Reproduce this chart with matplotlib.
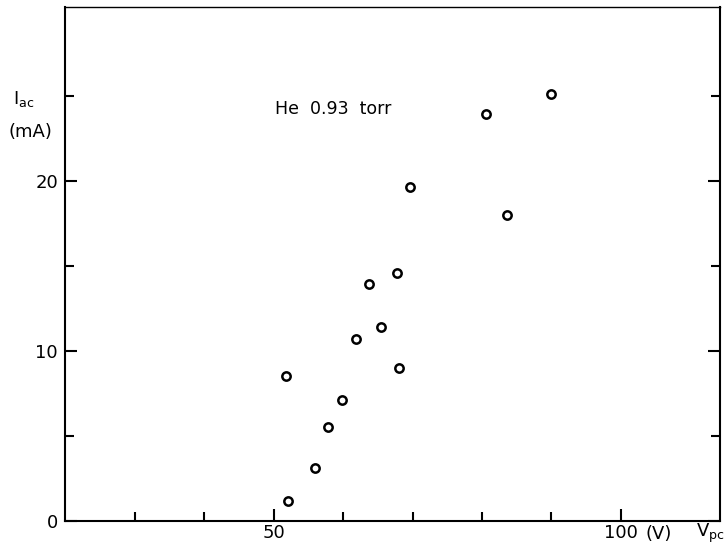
import matplotlib
matplotlib.use("Agg")
import matplotlib.pyplot as plt
from matplotlib.ticker import FixedLocator

# Anode current vs probe voltage, He 0.93 torr
v_pc = [89.9, 80.6, 69.55, 83.6, 67.7, 63.7, 65.4, 61.8, 68.0, 51.8, 59.8, 57.8, 56.0, 52.1]
i_ac = [25.1, 23.9, 19.6, 18.0, 14.55, 13.9, 11.4, 10.7, 9.0, 8.5, 7.1, 5.55, 3.1, 1.2]

x_major = [50, 100]
x_minor = [30, 40, 60, 70, 80, 90]
y_major = [0, 10, 20]
y_minor = [5, 15, 25]

plt.rcParams['font.family'] = 'DejaVu Sans'

fig = plt.figure(figsize=(7.28, 5.49), dpi=100)
ax = fig.add_axes([0.0893, 0.051, 0.8997, 0.936])

ax.plot(v_pc, i_ac, 'o', mfc='white', mec='black', ms=6, mew=1.8, color='black')

ax.set_xlim(19.9, 114.3)
ax.set_ylim(0, 30.2)

ax.xaxis.set_major_locator(FixedLocator(x_major))
ax.xaxis.set_minor_locator(FixedLocator(x_minor))
ax.yaxis.set_major_locator(FixedLocator(y_major))
ax.yaxis.set_minor_locator(FixedLocator(y_minor))

ax.tick_params(which='both', direction='in', width=1.5, labelsize=13, top=False, right=True)
ax.tick_params(which='major', length=8.5)
ax.tick_params(axis='x', which='major', pad=2)
ax.tick_params(axis='y', which='major', pad=5)
ax.tick_params(which='minor', length=6.5)
for s in ax.spines.values():
    s.set_linewidth(1.5)
ax.spines['top'].set_linewidth(1.0)

ax.text(50.1, 24.2, 'He  0.93  torr', fontsize=12.5, va='center', ha='left')
ax.text(103.6, -0.75, '(V)', fontsize=13, va='center', ha='left', clip_on=False)
ax.text(110.8, -0.75, r'V$_{\mathrm{pc}}$', fontsize=13, va='center', ha='left', clip_on=False)
fig.text(0.018, 0.82, r'I$_{\mathrm{ac}}$', fontsize=13, va='center', ha='left')
fig.text(0.012, 0.76, '(mA)', fontsize=13, va='center', ha='left')

fig.savefig('out.png', dpi=100)
